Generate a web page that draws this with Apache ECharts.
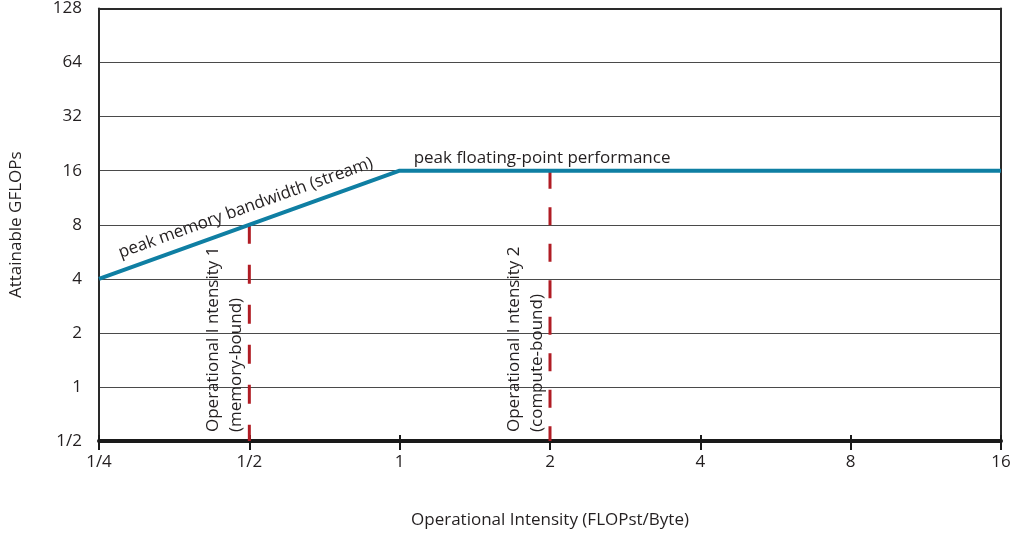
<!DOCTYPE html>
<html>
<head>
<meta charset="utf-8">
<script src="https://cdn.jsdelivr.net/npm/echarts@6/dist/echarts.min.js"></script>
<style>
  html, body { margin: 0; padding: 0; background: #fff; }
  #chart { width: 1014px; height: 538px; }
</style>
</head>
<body>
<div id="chart"></div>
<script>
// Roofline model: attainable performance vs operational intensity (both log2)
const xTicks = [0.25, 0.5, 1, 2, 4, 8, 16];
const xTickLabels = ['1/4', '1/2', '1', '2', '4', '8', '16'];
const yTicks = [0.5, 1, 2, 4, 8, 16, 32, 64, 128];
const yTickLabels = ['1/2', '1', '2', '4', '8', '16', '32', '64', '128'];

// Roof: memory-bandwidth slope up to the ridge, then the compute ceiling
const rooflineX = [0.25, 1, 16];
const rooflineY = [4, 16, 16];

// Two example kernels
const intensityX = [0.5, 2];
const intensityTop = [8, 16];
const intensityNames = ['Operational I ntensity 1', 'Operational I ntensity 2'];
const intensityNotes = ['(memory-bound)', '(compute-bound)'];

const bandwidthLabel = 'peak memory bandwidth (stream)';
const computeLabel = 'peak floating-point performance';
const xName = 'Operational Intensity (FLOPst/Byte)';
const yName = 'Attainable GFLOPs';

const FONT = '"Open Sans", sans-serif';
const FS = 17;
const TEXT = '#231f20';
const ROOF = '#0f7fa3';
const DASH = '#b01c24';
const dashPatterns = [[19, 21], [18, 18.5]];

function tickText(list, labels) {
  return v => {
    const i = list.findIndex(t => Math.abs(Math.log2(t) - Math.log2(v)) < 1e-6);
    return i >= 0 ? labels[i] : '';
  };
}

const chart = echarts.init(document.getElementById('chart'));

const logX = {
  type: 'log', logBase: 2, min: xTicks[0], max: xTicks[xTicks.length - 1], interval: 1
};
const logY = {
  type: 'log', logBase: 2, min: yTicks[0], max: yTicks[yTicks.length - 1], interval: 1
};

const series = [{
  type: 'line',
  data: rooflineX.map((x, i) => [x, rooflineY[i]]),
  showSymbol: false,
  symbol: 'none',
  lineStyle: { color: ROOF, width: 4 },
  z: 5
}];
intensityX.forEach((x, i) => {
  series.push({
    type: 'line',
    data: [[x, intensityTop[i]], [x, yTicks[0]]],
    symbol: 'none',
    lineStyle: { color: DASH, width: 3, type: dashPatterns[i] },
    z: 4
  });
});

chart.setOption({
  animation: false,
  grid: { left: 99, right: 13, top: 8, bottom: 97 },
  xAxis: [
    Object.assign({}, logX, {
      position: 'bottom',
      name: xName,
      nameLocation: 'middle',
      nameGap: 71,
      nameTextStyle: { fontFamily: FONT, fontSize: FS, color: TEXT },
      axisLine: { show: true, lineStyle: { color: '#1a1a1a', width: 4 } },
      axisTick: { show: true, length: 9, lineStyle: { color: '#1a1a1a', width: 2 } },
      axisLabel: { margin: 13, fontFamily: FONT, fontSize: FS, color: TEXT, formatter: tickText(xTicks, xTickLabels) },
      splitLine: { show: false }
    }),
    Object.assign({}, logX, {
      position: 'bottom',
      axisLine: { show: false },
      axisTick: { show: true, inside: true, length: 6, lineStyle: { color: '#1a1a1a', width: 2 } },
      axisLabel: { show: false },
      splitLine: { show: false }
    }),
    Object.assign({}, logX, {
      position: 'top',
      axisLine: { show: true, lineStyle: { color: '#2a2a2a', width: 2 } },
      axisTick: { show: false },
      axisLabel: { show: false },
      splitLine: { show: false }
    })
  ],
  yAxis: [
    Object.assign({}, logY, {
      position: 'left',
      name: yName,
      nameLocation: 'middle',
      nameGap: 74,
      nameTextStyle: { fontFamily: FONT, fontSize: FS, color: TEXT },
      axisLine: { show: true, lineStyle: { color: '#2a2a2a', width: 2 } },
      axisTick: { show: false },
      axisLabel: { margin: 17, fontFamily: FONT, fontSize: FS, color: TEXT, formatter: tickText(yTicks, yTickLabels) },
      splitLine: { show: true, lineStyle: { color: '#4a4a4a', width: 1 } }
    }),
    Object.assign({}, logY, {
      position: 'right',
      axisLine: { show: true, lineStyle: { color: '#2a2a2a', width: 2 } },
      axisTick: { show: false },
      axisLabel: { show: false },
      splitLine: { show: false }
    })
  ],
  series: series
});

// Annotations placed from data coordinates
const px = p => chart.convertToPixel({ xAxisIndex: 0, yAxisIndex: 0 }, p);
const a = px([rooflineX[0], rooflineY[0]]);
const b = px([rooflineX[1], rooflineY[1]]);
const dx = b[0] - a[0], dy = b[1] - a[1];
const len = Math.hypot(dx, dy);
const slopeAngle = Math.atan2(-dy, dx);
const nx = dy / len, ny = -dx / len; // unit normal pointing above the slope
const labelX = 0.505;
const slopeMid = px([labelX, rooflineY[0] * labelX / rooflineX[0]]);
const ridge = px([rooflineX[1], rooflineY[1]]);
const floorY = px([xTicks[0], yTicks[0]])[1];

const textStyle = (text, extra) => Object.assign({
  text: text, fontFamily: FONT, fontSize: FS, fill: TEXT
}, extra);

const graphics = [
  {
    type: 'text',
    x: slopeMid[0] + nx * 17, y: slopeMid[1] + ny * 17,
    rotation: slopeAngle,
    style: textStyle(bandwidthLabel, { align: 'center', verticalAlign: 'middle' }),
    z: 10
  },
  {
    type: 'text',
    x: ridge[0] + 14, y: ridge[1] - 13,
    style: textStyle(computeLabel, { align: 'left', verticalAlign: 'middle' }),
    z: 10
  }
];
intensityX.forEach((x, i) => {
  const lx = px([x, yTicks[0]])[0];
  graphics.push({
    type: 'text', x: lx - 36, y: floorY - 9, rotation: Math.PI / 2,
    style: textStyle(intensityNames[i], { align: 'left', verticalAlign: 'middle' }), z: 10
  });
  graphics.push({
    type: 'text', x: lx - 13, y: floorY - 9, rotation: Math.PI / 2,
    style: textStyle(intensityNotes[i], { align: 'left', verticalAlign: 'middle' }), z: 10
  });
});
chart.setOption({ graphic: graphics });
</script>
</body>
</html>
